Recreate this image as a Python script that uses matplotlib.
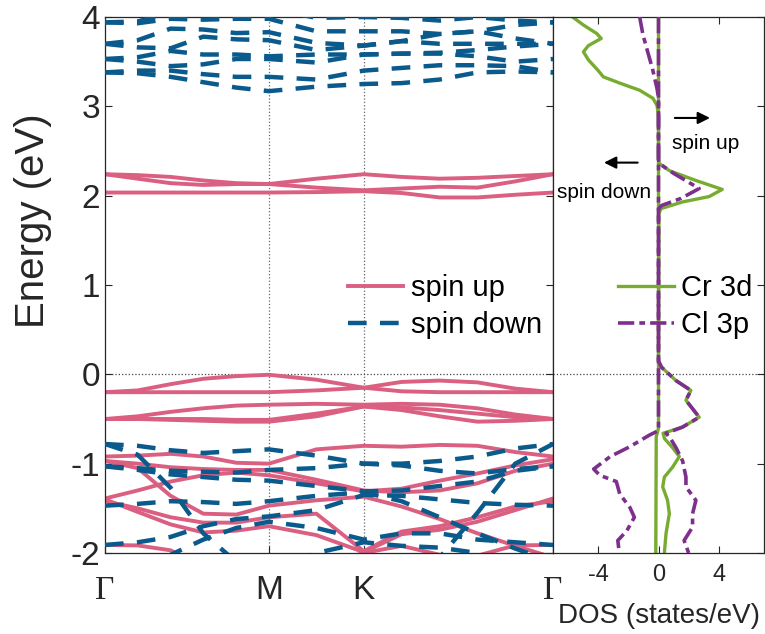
import numpy as np
import matplotlib
matplotlib.use('Agg')
import matplotlib.pyplot as plt

plt.rcParams['font.family'] = ['Liberation Sans', 'DejaVu Sans']
plt.rcParams['axes.unicode_minus'] = False

# k-path (hexagonal BZ): Gamma - M - K - Gamma
k_nodes = [0.0, 0.577, 0.911, 1.577]
k_names = ['Γ', 'M', 'K', 'Γ']
k = [0.0, 0.115, 0.231, 0.346, 0.462, 0.577, 0.744, 0.911, 1.044, 1.178, 1.311, 1.444, 1.577]

# spin up bands (eV), sampled at k
up_bands = [
    [2.24, 2.23, 2.21, 2.17, 2.14, 2.13, 2.19, 2.24, 2.21, 2.19, 2.20, 2.22, 2.24],
    [2.24, 2.19, 2.14, 2.12, 2.13, 2.13, 2.09, 2.06, 2.08, 2.10, 2.09, 2.16, 2.24],
    [2.035, 2.035, 2.035, 2.035, 2.035, 2.035, 2.04, 2.05, 2.03, 1.98, 1.98, 2.01, 2.035],
    [-0.20, -0.18, -0.11, -0.05, -0.02, -0.005, -0.06, -0.15, -0.085, -0.07, -0.09, -0.16, -0.20],
    [-0.20, -0.20, -0.20, -0.20, -0.20, -0.20, -0.18, -0.15, -0.19, -0.20, -0.20, -0.20, -0.20],
    [-0.50, -0.47, -0.42, -0.38, -0.35, -0.34, -0.33, -0.34, -0.33, -0.34, -0.38, -0.45, -0.50],
    [-0.50, -0.50, -0.51, -0.52, -0.53, -0.53, -0.47, -0.36, -0.40, -0.47, -0.53, -0.52, -0.50],
    [-0.50, -0.50, -0.50, -0.50, -0.51, -0.51, -0.44, -0.36, -0.37, -0.40, -0.44, -0.48, -0.50],
    [-0.92, -0.91, -0.89, -0.92, -0.99, -1.00, -0.84, -0.80, -0.81, -0.79, -0.80, -0.87, -0.92],
    [-0.97, -1.05, -1.36, -1.56, -1.57, -1.47, -1.41, -1.37, -1.48, -1.62, -1.78, -1.92, -2.05],
    [-1.39, -1.30, -1.20, -1.13, -1.10, -1.13, -1.22, -1.31, -1.28, -1.19, -1.11, -1.02, -0.95],
    [-0.97, -1.00, -1.04, -1.06, -1.07, -1.07, -1.18, -1.30, -1.32, -1.30, -1.22, -1.08, -1.00],
    [-1.42, -1.50, -1.60, -1.66, -1.66, -1.60, -1.56, -1.98, -1.76, -1.70, -1.60, -1.48, -1.42],
    [-1.40, -1.54, -1.68, -1.77, -1.75, -1.70, -1.80, -1.99, -1.79, -1.74, -1.65, -1.52, -1.39],
    [-1.91, -1.915, -1.97, -2.15, -2.30, -2.35, -2.35, -2.30, -2.25, -2.15, -2.03, -1.915, -1.91],
    [-2.30, -2.30, -2.30, -2.30, -2.30, -2.30, -2.15, -2.00, -1.92, -2.02, -2.20, -2.30, -2.30],
]

# spin down bands (eV)
down_bands = [
    [3.38, 3.37, 3.33, 3.27, 3.21, 3.17, 3.22, 3.25, 3.26, 3.30, 3.38, 3.39, 3.38],
    [3.38, 3.40, 3.40, 3.36, 3.33, 3.33, 3.30, 3.40, 3.43, 3.46, 3.46, 3.45, 3.38],
    [3.53, 3.50, 3.45, 3.47, 3.53, 3.53, 3.49, 3.58, 3.59, 3.59, 3.56, 3.50, 3.53],
    [3.53, 3.55, 3.62, 3.58, 3.58, 3.56, 3.58, 3.58, 3.59, 3.60, 3.63, 3.67, 3.70],
    [3.70, 3.66, 3.65, 3.78, 3.75, 3.74, 3.63, 3.68, 3.73, 3.70, 3.70, 3.70, 3.70],
    [3.70, 3.74, 3.87, 3.86, 3.82, 3.83, 3.71, 3.68, 3.73, 3.81, 3.84, 3.76, 3.70],
    [3.94, 3.93, 3.98, 3.97, 3.98, 3.98, 3.84, 3.84, 3.84, 3.81, 3.84, 3.91, 3.94],
    [3.94, 3.95, 4.05, 4.10, 4.10, 4.10, 3.99, 4.00, 3.99, 3.96, 4.00, 3.96, 3.94],
    [-0.78, -0.80, -0.85, -0.88, -0.86, -0.84, -0.91, -1.00, -1.00, -0.97, -0.92, -0.83, -0.78],
    [-0.78, -0.90, -1.27, -1.78, -2.10, -2.30, -2.40, -2.40, -2.30, -2.05, -1.55, -1.00, -0.78],
    [-1.03, -1.05, -1.08, -1.09, -1.10, -1.07, -1.05, -1.00, -1.02, -1.08, -1.11, -1.06, -1.03],
    [-1.03, -1.07, -1.12, -1.15, -1.18, -1.19, -1.25, -1.31, -1.30, -1.25, -1.20, -1.08, -1.03],
    [-1.47, -1.45, -1.42, -1.43, -1.45, -1.42, -1.36, -1.32, -1.42, -1.60, -1.78, -1.95, -2.10],
    [-1.91, -1.88, -1.82, -1.70, -1.62, -1.59, -1.52, -1.35, -1.36, -1.40, -1.44, -1.46, -1.47],
    [-2.30, -2.20, -2.02, -1.85, -1.72, -1.65, -1.72, -1.85, -1.78, -1.78, -1.85, -1.88, -1.91],
    [-2.30, -2.30, -2.30, -2.30, -2.30, -2.20, -2.00, -1.88, -1.92, -1.94, -2.00, -2.20, -2.30],
]

# projected DOS (states/eV): spin up > 0, spin down < 0
cr_up_e = [4.0, 2.40, 2.36, 2.28, 2.17, 2.07, 1.99, 1.93, 1.855, 1.80, 0.15, 0.08, -0.07, -0.18,
           -0.29, -0.48, -0.59, -0.66, -0.72, -0.82, -0.92, -1.04, -1.15, -1.26, -1.41, -1.56, -1.78, -2.0]
cr_up = [0.0, 0.0, 0.05, 0.72, 2.48, 4.23, 3.36, 1.6, 0.17, 0.02, 0.0, 0.2, 1.16, 2.15,
         1.82, 2.7, 1.6, 0.3, 0.4, 0.93, 1.38, 0.93, 0.39, 0.28, 0.6, 0.72, 0.5, 0.39]
cr_dn_e = [4.0, 3.91, 3.815, 3.76, 3.68, 3.61, 3.52, 3.40, 3.33, 3.26, 3.18, 3.09, 3.01, 2.9,
           -0.6, -0.7, -2.0]
cr_dn = [-5.7, -4.98, -4.1, -3.8, -4.65, -4.98, -4.65, -4.0, -3.66, -2.57, -1.25, -0.37, -0.1, 0.0,
         0.0, -0.15, -0.18]
cl_up_e = [4.0, 2.40, 2.36, 2.25, 2.08, 1.97, 1.89, 1.85, 0.15, 0.08, -0.07, -0.18, -0.29, -0.48,
           -0.59, -0.66, -0.72, -0.82, -0.97, -1.15, -1.26, -1.41, -1.56, -1.71, -1.86, -2.0]
cl_up = [0.0, 0.0, 0.05, 1.0, 2.7, 1.5, 0.2, 0.0, 0.0, 0.2, 1.16, 2.15, 1.82, 2.7,
         1.6, 0.5, 0.8, 1.16, 1.6, 1.82, 1.82, 2.48, 2.26, 2.26, 1.7, 2.0]
cl_dn_e = [4.0, 3.8, 3.6, 3.42, 3.2, 3.1, -0.63, -0.68, -0.81, -0.92, -1.06, -1.13, -1.2, -1.34,
           -1.49, -1.6, -1.75, -1.86, -2.0]
cl_dn = [-1.25, -1.03, -0.7, -0.4, -0.1, 0.0, 0.0, -0.6, -1.9, -3.2, -4.3, -3.9, -2.8, -2.57,
         -1.9, -1.6, -2.1, -2.7, -2.6]

pink = '#DA5F80'
blue = '#0A5A8C'
green = '#77AC30'
purple = '#7E2F8E'
dark = '#262626'
dashdot = (0, (4.5, 1.4, 1.6, 1.4))

fig = plt.figure(figsize=(7.65, 6.34), dpi=100)
ax1 = fig.add_axes([105 / 765, 81 / 634, 448 / 765, 536 / 634])
ax2 = fig.add_axes([553 / 765, 81 / 634, 211 / 765, 536 / 634])

# --- band structure ---
for kn in k_nodes[1:-1]:
    ax1.axvline(kn, color='#666666', ls=':', lw=0.9, zorder=1)
ax1.axhline(0, color='#444444', ls=':', lw=0.9, zorder=1)

for i, b in enumerate(up_bands):
    ax1.plot(k, b, color=pink, lw=2.8, solid_joinstyle='round',
             label='spin up' if i == 0 else None, zorder=2)
for i, b in enumerate(down_bands):
    ax1.plot(k, b, color=blue, lw=3.2, ls=(0, (4.2, 3.0)), dash_joinstyle='round',
             label='spin down' if i == 0 else None, zorder=3)

ax1.set_xlim(k_nodes[0], k_nodes[-1])
ax1.set_ylim(-2, 4)
ax1.set_yticks(range(-2, 5))
ax1.set_xticks(k_nodes)
ax1.set_xticklabels(k_names)
for lab in ax1.get_xticklabels():
    if lab.get_text() == 'Γ':
        lab.set_fontfamily('Liberation Serif')
        lab.set_fontsize(27)
ax1.tick_params(axis='both', direction='in', length=5, width=0.8, color=dark,
                labelcolor=dark, labelsize=24, right=True)
ax1.tick_params(axis='x', pad=16)
ax1.set_ylabel('Energy (eV)', fontsize=29, color=dark)
ax1.yaxis.set_label_coords(-0.118, 0.62)
for s in ax1.spines.values():
    s.set_color(dark)
    s.set_linewidth(0.9)
ax1.legend(loc='center left', bbox_to_anchor=(0.542, 0.46), frameon=False, fontsize=21,
           handlelength=1.9, handletextpad=0.25, labelspacing=0.3, borderpad=0, borderaxespad=0)

# --- DOS ---
ax2.axhline(0, color='#444444', ls=':', lw=0.9, zorder=1)
ax2.plot(cr_up, cr_up_e, color=green, lw=2.4, solid_joinstyle='round', label='Cr 3d', zorder=2)
ax2.plot(cr_dn, cr_dn_e, color=green, lw=2.4, solid_joinstyle='round', zorder=2)
ax2.plot(cl_up, cl_up_e, color=purple, lw=2.6, ls=dashdot, label='Cl 3p', zorder=3)
ax2.plot(cl_dn, cl_dn_e, color=purple, lw=2.6, ls=dashdot, zorder=3)

ax2.annotate('', xy=(3.6, 2.87), xytext=(0.9, 2.87),
             arrowprops=dict(arrowstyle='-|>', color='black', lw=1.5, mutation_scale=18))
ax2.text(3.1, 2.58, 'spin up', fontsize=15, ha='center', va='center', color='black')
ax2.annotate('', xy=(-3.8, 2.37), xytext=(-1.2, 2.37),
             arrowprops=dict(arrowstyle='-|>', color='black', lw=1.5, mutation_scale=18))
ax2.text(-3.6, 2.03, 'spin down', fontsize=15, ha='center', va='center', color='black')

ax2.set_xlim(-7, 7)
ax2.set_ylim(-2, 4)
ax2.set_xticks([-4, 0, 4])
ax2.set_yticks(range(-2, 5))
ax2.tick_params(axis='x', direction='in', length=5, width=0.8, color=dark, labelcolor=dark,
                labelsize=17, top=True, pad=8)
ax2.tick_params(axis='y', direction='in', length=5, width=0.8, color=dark,
                left=False, right=True, labelleft=False)
ax2.set_xlabel('DOS (states/eV)', fontsize=20, color=dark, labelpad=12)
for s in ax2.spines.values():
    s.set_color(dark)
    s.set_linewidth(0.9)
ax2.legend(loc='center left', bbox_to_anchor=(0.31, 0.46), frameon=False, fontsize=21,
           handlelength=1.9, handletextpad=0.25, labelspacing=0.3, borderpad=0, borderaxespad=0)

fig.savefig('out.png', dpi=100)
